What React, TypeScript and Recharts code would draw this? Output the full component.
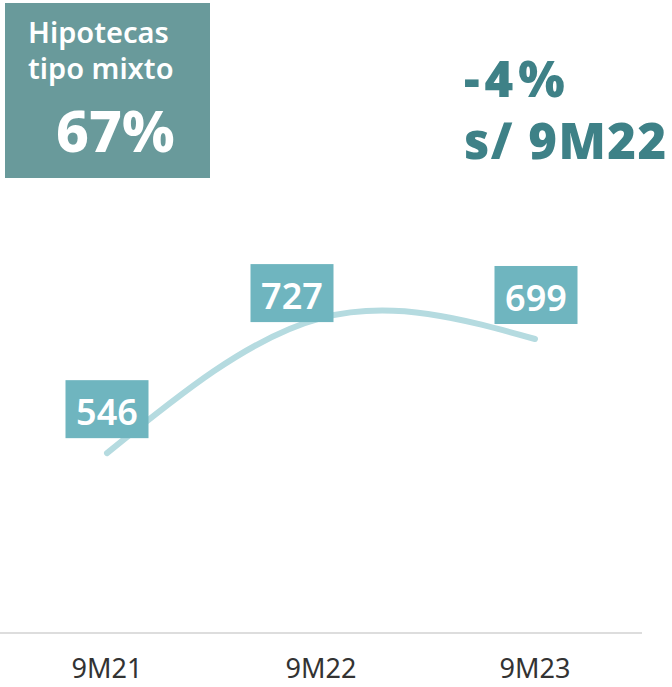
import { LineChart, Line, XAxis, YAxis, LabelList } from 'recharts';

const periods = ['9M21', '9M22', '9M23'];
const volumes = [546, 727, 699];

const headlineTitle = ['Hipotecas', 'tipo mixto'];
const headlineShare = '67%';
const changeText = ['-4%', 's/ 9M22'];

// per-point nudges for the value boxes (as laid out in the original)
const labelOffsets = [
  { dx: 0, gap: 15 },
  { dx: -29, gap: -4 },
  { dx: 1, gap: 15 },
];

const data = periods.map((p, i) => ({ period: p, value: volumes[i] }));

const BOX_W = 83;
const BOX_H = 58;

const ValueBox = (props: any) => {
  const { x, y, value, index } = props;
  const off = labelOffsets[index] || { dx: 0, gap: 15 };
  const cx = x + off.dx;
  const top = y - off.gap - BOX_H;
  return (
    <g>
      <rect x={cx - BOX_W / 2} y={top} width={BOX_W} height={BOX_H} fill="#6fb5bf" />
      <text
        x={cx}
        y={top + 45}
        textAnchor="middle"
        fill="#ffffff"
        fontFamily="'Noto Sans', sans-serif"
        fontWeight={600}
        fontSize={36}
      >
        {value}
      </text>
    </g>
  );
};

export default function App() {
  return (
    <div
      style={{
        position: 'absolute',
        left: 0,
        top: 0,
        width: 672,
        height: 687,
        background: '#fff',
        fontFamily: "'Noto Sans', sans-serif",
      }}
    >
      <div
        style={{
          position: 'absolute',
          left: 5,
          top: 3,
          width: 205,
          height: 175,
          background: '#699a9b',
          color: '#fff',
        }}
      >
        <div
          style={{
            position: 'absolute',
            left: 23,
            top: 11,
            fontSize: 29,
            fontWeight: 600,
            lineHeight: '36px',
          }}
        >
          {headlineTitle.map((t) => (
            <div key={t}>{t}</div>
          ))}
        </div>
        <div
          style={{
            position: 'absolute',
            left: 51,
            top: 91,
            fontSize: 57,
            fontWeight: 800,
            lineHeight: '72px',
          }}
        >
          {headlineShare}
        </div>
      </div>

      <div
        style={{
          position: 'absolute',
          left: 464,
          top: 47,
          color: '#3e8187',
          fontSize: 49,
          fontWeight: 900,
          lineHeight: '62px',
          whiteSpace: 'nowrap',
        }}
      >
        {changeText.map((t, i) => (
          <div key={t} style={{ letterSpacing: i === 0 ? 5 : 1.5 }}>
            {t}
          </div>
        ))}
      </div>

      <div style={{ position: 'absolute', left: 0, top: 0 }}>
        <LineChart
          width={642}
          height={687}
          data={data}
          margin={{ top: 189, right: 0, bottom: 14, left: 0 }}
        >
          <XAxis
            dataKey="period"
            height={40}
            padding={{ left: 107, right: 107 }}
            axisLine={{ stroke: '#dddddd', strokeWidth: 2 }}
            tickLine={false}
            tickSize={8}
            tickMargin={18}
            tick={{ fill: '#333333', fontSize: 27, fontFamily: "'Noto Sans', sans-serif" }}
          />
          <YAxis hide domain={[305, 900]} />
          <Line
            type="natural"
            dataKey="value"
            stroke="#b5dbe0"
            strokeWidth={6}
            strokeLinecap="round"
            dot={false}
            activeDot={false}
            isAnimationActive={false}
          >
            <LabelList dataKey="value" content={<ValueBox />} />
          </Line>
        </LineChart>
      </div>
    </div>
  );
}
